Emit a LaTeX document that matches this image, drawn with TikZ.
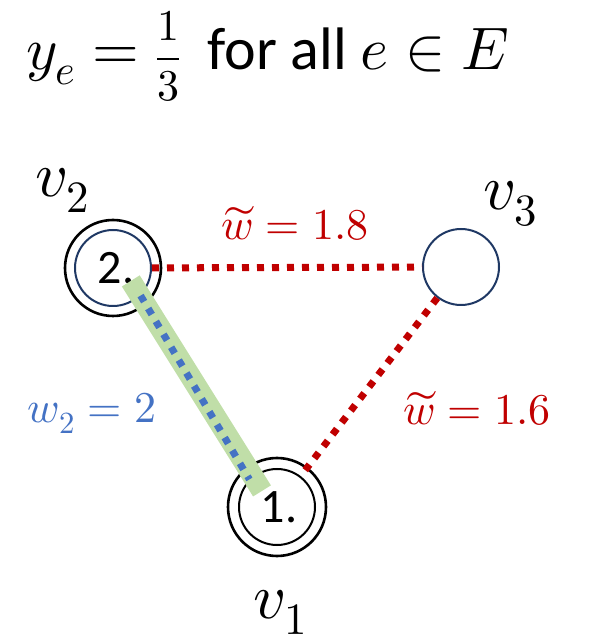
\documentclass[tikz,border=0pt]{standalone}
\usepackage{amsmath}
\usepackage{fontspec}
\usepackage{unicode-math}
\setmainfont{Carlito}
\setmathfont{Latin Modern Math}
\usetikzlibrary{calc}
\definecolor{wred}{HTML}{C00000}
\definecolor{wblue}{HTML}{4472C4}
\definecolor{vnavy}{HTML}{1F3864}
\definecolor{bandgreen}{RGB}{192,222,168}

\begin{document}
\begin{tikzpicture}[x=1pt,y=1pt,every node/.style={font=\fontsize{44}{50}\selectfont},
  vert/.style={circle,draw=vnavy,line width=2pt,minimum size=76pt,inner sep=0pt,
    font=\fontsize{48}{50}\selectfont},
  ring/.style={circle,draw,line width=2.6pt,inner sep=0pt},
  dots/.style={line width=7pt,dash pattern=on 7pt off 8pt},
  vlabel/.style={font=\fontsize{64}{70}\selectfont,anchor=base,inner sep=1pt}]
  \useasboundingbox (0,0) rectangle (590,641);
  \coordinate (p1) at (277,134);
  \coordinate (p2) at (113,373);
  \coordinate (p3) at (461,374);
  % vertices
  \node[vert,draw=black] (v1) at (p1) {\hspace{4pt}1.};
  \node[vert] (v2) at (p2) {\hspace{6pt}2.};
  \node[vert] (v3) at (p3) {};
  \node[ring,minimum size=98pt] (v1ring) at (p1) {};
  \node[ring,minimum size=96pt] (v2ring) at (p2) {};
  % matched edge
  \coordinate (g2) at ($(p2)+(-36:22)$);
  \coordinate (g1) at ($(p1)+(133:22)$);
  \draw[bandgreen,line width=21pt] (g2) -- (g1);
  \draw[dots,wblue] (v2.-45) -- (v1.135);
  \draw[dots,wred] (v2) -- (v3);
  \draw[dots,wred] (v3) -- (v1);
  % labels
  \node[vlabel] (l1) at (280,22) {$v_1$};
  \node[vlabel] (l2) at (62,444) {$v_2$};
  \node[vlabel] (l3) at (510,431) {$v_3$};
  \node[anchor=base,wred] (w23) at (295,401) {$\widetilde{w}=1.8$};
  \node[anchor=base,wred] (w31) at (477,216) {$\widetilde{w}=1.6$};
  \node[anchor=base,wblue] (w12) at (92,218) {$w_2=2$};
  \node[anchor=base,font=\fontsize{60}{70}\selectfont] (head) at (268,571)
    {$y_e={}${\fontsize{44}{48}\selectfont$\dfrac{1}{3}$}\ \ for all $e\in E$};
\end{tikzpicture}
\end{document}
